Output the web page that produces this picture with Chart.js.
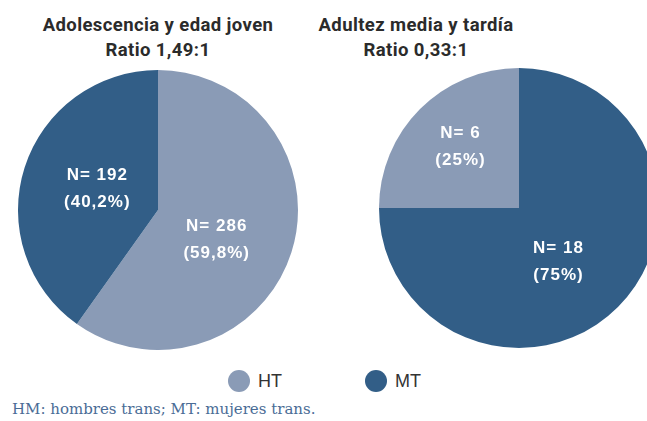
<!DOCTYPE html>
<html>
<head>
<meta charset="utf-8">
<script src="https://cdn.jsdelivr.net/npm/chart.js@4"></script>
<style>
  html, body { margin: 0; padding: 0; background: #fff; overflow: hidden; }
  body { width: 647px; height: 421px; position: relative; }
  .title {
    position: absolute; width: 300px; text-align: center;
    font-family: Roboto, "Liberation Sans", sans-serif; letter-spacing: 0.4px;
    font-weight: bold; font-size: 18.5px; line-height: 25px; color: #2b2b2b;
  }
  canvas { position: absolute; }
  .legend { position: absolute; top: 370px; left: 0; width: 647px; height: 24px; }
  .legend span.item { position: absolute; font-family: "Liberation Sans", Arial, sans-serif; font-size: 18px; color: #333; line-height: 22px; }
  .legend i { position: absolute; width: 22px; height: 22px; border-radius: 50%; left: -30px; top: 0; }
  .note {
    position: absolute; left: 12px; top: 400px;
    font-family: "DejaVu Serif", serif; font-size: 15px; color: #4a6c96;
  }
</style>
</head>
<body>
<div class="title" style="left:8px; top:13px;">Adolescencia y edad joven<br>Ratio 1,49:1</div>
<div class="title" style="left:266px; top:13px;">Adultez media y tardía<br>Ratio 0,33:1</div>
<canvas id="young" width="280" height="280" style="left:18px; top:70px;"></canvas>
<canvas id="adult" width="280" height="280" style="left:379px; top:68px;"></canvas>
<div class="legend" id="legend"></div>
<div class="note">HM: hombres trans; MT: mujeres trans.</div>

<script>
const labels = ['HT', 'MT'];
const youngCounts = [286, 192];
const youngPercents = ['59,8%', '40,2%'];
const adultCounts = [6, 18];
const adultPercents = ['25%', '75%'];
const colors = ['#8a9bb6', '#325e87'];

// write "N= x" and "(y%)" on each slice
const sliceLabels = {
    id: 'sliceLabels',
    afterDatasetsDraw(chart, args, opts) {
        const ctx = chart.ctx;
        const meta = chart.getDatasetMeta(0);
        ctx.save();
        ctx.fillStyle = '#fff';
        ctx.font = 'bold 17px "Liberation Sans", Arial, sans-serif';
        ctx.letterSpacing = '1px';
        ctx.textAlign = 'center';
        ctx.textBaseline = 'middle';
        meta.data.forEach((arc, i) => {
            const p = arc.tooltipPosition();
            const x = p.x + opts.shift[i][0];
            const y = p.y + opts.shift[i][1];
            ctx.fillText('N= ' + chart.data.datasets[0].data[i], x, y - 13);
            ctx.fillText('(' + opts.percents[i] + ')', x, y + 14);
        });
        ctx.restore();
    }
};

function makePie(id, counts, percents, rotation, shift) {
    return new Chart(document.getElementById(id), {
        type: 'pie',
        data: {
            labels: labels,
            datasets: [{
                data: counts,
                backgroundColor: colors,
                borderWidth: 0
            }]
        },
        options: {
            responsive: false,
            animation: false,
            rotation: rotation,
            layout: { padding: 0 },
            plugins: {
                legend: { display: false },
                tooltip: { enabled: false },
                sliceLabels: { percents: percents, shift: shift }
            }
        },
        plugins: [sliceLabels]
    });
}

makePie('young', youngCounts, youngPercents, 0, [[-8, 8], [6, 0]]);
makePie('adult', adultCounts, adultPercents, -90, [[-9, -12], [-10, 4]]);

// legend
const legend = document.getElementById('legend');
const legendX = [258, 395];
labels.forEach((lab, i) => {
    const item = document.createElement('span');
    item.className = 'item';
    item.style.left = legendX[i] + 'px';
    item.innerHTML = '<i style="background:' + colors[i] + '"></i>' + lab;
    legend.appendChild(item);
});
</script>
</body>
</html>
